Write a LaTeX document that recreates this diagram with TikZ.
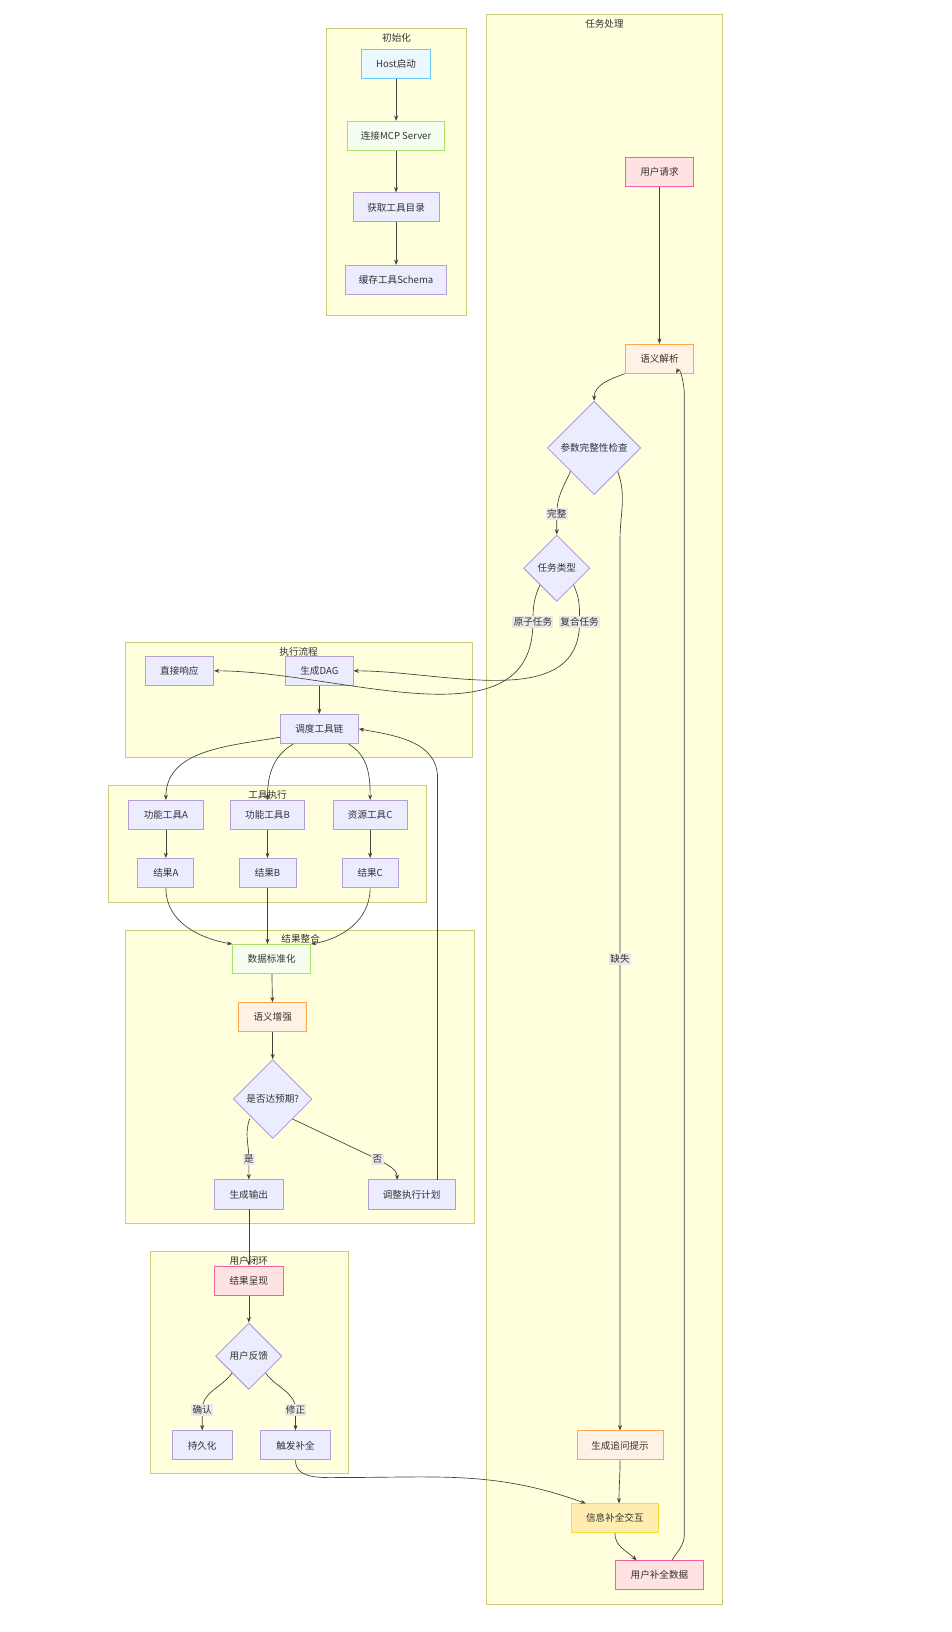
\documentclass[tikz,border=0pt]{standalone}
\usepackage{fontspec}
\setmainfont{Noto Sans CJK SC}
\usetikzlibrary{shapes.geometric,arrows.meta}
\definecolor{cf}{HTML}{FFFFDE}\definecolor{cs}{HTML}{CCCC77}
\definecolor{pf}{HTML}{ECECFF}\definecolor{ps}{HTML}{B39DDB}
\tikzset{
 x=0.778pt,y=-0.778pt,
 every node/.style={font=\fontsize{7.2}{9}\selectfont,text=black!80},
 clu/.style={draw=cs,fill=cf,line width=0.7pt},
 ctitle/.style={anchor=north,font=\fontsize{7.2}{9}\selectfont},
 box/.style={draw=ps,fill=pf,line width=0.7pt,minimum height=28*0.778pt,inner sep=0pt},
 cyan/.style={box,fill=cyan!8,draw=cyan!60},
 green/.style={box,fill=green!50!lime!6,draw=green!50!black!40!lime!60},
 orange/.style={box,fill=orange!10,draw=orange!70},
 pink/.style={box,fill=pink!45,draw=magenta!50!pink},
 amber/.style={box,fill=yellow!60!orange!30,draw=yellow!70!orange!80},
 dia/.style={diamond,draw=ps,fill=pf,line width=0.7pt,inner sep=0pt,aspect=1},
 e/.style={draw=black!75,line width=0.5pt,-{Stealth[length=4pt,width=3pt]}},
 lbl/.style={fill=black!9,inner sep=1pt}
}
\begin{document}
\begin{tikzpicture}
\useasboundingbox (0,0) rectangle (918,1574);
% clusters
\draw[clu] (315,27) rectangle (450,304); \node[ctitle] at (382.5,28) {初始化};
\draw[clu] (469,14) rectangle (697,1547); \node[ctitle] at (583,14) {任务处理};
\draw[clu] (121,620) rectangle (456,731); \node[ctitle] at (288,620) {执行流程};
\draw[clu] (105,758) rectangle (411,870); \node[ctitle] at (258,758) {工具执行};
\draw[clu] (121,897) rectangle (458,1180); \node[ctitle] at (290,897) {结果整合};
\draw[clu] (145,1207) rectangle (336,1421); \node[ctitle] at (240,1207) {用户闭环};
% nodes
\node[cyan,minimum width=67*0.778pt] (h) at (382,62) {Host启动};
\node[green,minimum width=93*0.778pt] (m) at (382,131) {连接MCP Server};
\node[box,minimum width=83*0.778pt] (g) at (382,200) {获取工具目录};
\node[box,minimum width=97*0.778pt] (s) at (382,270) {缓存工具Schema};
\node[pink,minimum width=66*0.778pt] (ur) at (636,166) {用户请求};
\node[orange,minimum width=66*0.778pt] (sp) at (636,346) {语义解析};
\node[dia,minimum size=90*0.778pt] (pc) at (573,432) {参数完整性检查};
\node[dia,minimum size=64*0.778pt] (tt) at (537,548) {任务类型};
\node[box,minimum width=66*0.778pt] (dr) at (173,647) {直接响应};
\node[box,minimum width=65*0.778pt] (dag) at (308,647) {生成DAG};
\node[box,minimum width=75*0.778pt] (sch) at (308,703) {调度工具链};
\node[box,minimum width=72*0.778pt] (ta) at (160,786) {功能工具A};
\node[box,minimum width=72*0.778pt] (tb) at (258,786) {功能工具B};
\node[box,minimum width=71*0.778pt] (tc) at (357,786) {资源工具C};
\node[box,minimum width=54*0.778pt] (ra) at (160,842) {结果A};
\node[box,minimum width=55*0.778pt] (rb) at (258,842) {结果B};
\node[box,minimum width=54*0.778pt] (rc) at (357,842) {结果C};
\node[green,minimum width=75*0.778pt] (dn) at (262,925) {数据标准化};
\node[orange,minimum width=66*0.778pt] (se) at (263,981) {语义增强};
\node[dia,minimum size=76*0.778pt] (ok) at (263,1060) {是否达预期?};
\node[box,minimum width=66*0.778pt] (go) at (240,1152) {生成输出};
\node[box,minimum width=84*0.778pt] (adj) at (397,1152) {调整执行计划};
\node[pink,minimum width=66*0.778pt] (rp) at (240,1235) {结果呈现};
\node[dia,minimum size=64*0.778pt] (fb) at (240,1308) {用户反馈};
\node[box,minimum width=58*0.778pt] (pe) at (195,1394) {持久化};
\node[box,minimum width=67*0.778pt] (tr) at (285,1394) {触发补全};
\node[orange,minimum width=83*0.778pt] (ask) at (598,1394) {生成追问提示};
\node[amber,minimum width=84*0.778pt] (ii) at (593,1464) {信息补全交互};
\node[pink,minimum width=84*0.778pt] (ud) at (636,1519) {用户补全数据};
% label coordinates
\coordinate (l1) at (537,496); \coordinate (l2) at (598,925);
\coordinate (l3) at (514,600); \coordinate (l4) at (559,600);
\coordinate (l5) at (240,1118); \coordinate (l6) at (364,1118);
\coordinate (l7) at (195,1360); \coordinate (l8) at (285,1360);
% edges
\draw[e] (h) -- (m); \draw[e] (m) -- (g); \draw[e] (g) -- (s);
\draw[e] (ur) -- (sp);
\draw[e] (sp.south west) to[out=200,in=90] (pc.north);
\draw[e] (pc.south west) to[out=-115,in=90] (l1) -- (tt.north);
\draw[e] (pc.south east) to[out=-70,in=90] (598,520) -- (l2) -- (ask.north);
\draw[e] (tt.south west) to[out=-115,in=90] (l3) to[out=-90,in=0] (dr.east);
\draw[e] (tt.south east) to[out=-65,in=90] (l4) to[out=-90,in=0] (dag.east);
\draw[e] (dag) -- (sch);
\draw[e] (sch.west) ++(0,8) to[out=190,in=90] (ta.north);
\draw[e] (sch.south west) ++(13,0) to[out=-150,in=90] (tb.north);
\draw[e] (sch.south east) ++(-10,0) to[out=-30,in=90] (tc.north);
\draw[e] (ta) -- (ra); \draw[e] (tb) -- (rb); \draw[e] (tc) -- (rc);
\draw[e] (ra.south) to[out=-90,in=170] (dn.north west);
\draw[e] (rb.south) -- (dn.north west -| rb.south);
\draw[e] (rc.south) to[out=-90,in=10] (dn.north east);
\draw[e] (dn) -- (se); \draw[e] (se) -- (ok);
\draw[e] (ok.south west) ++(-3,0) to[out=-110,in=90] (l5) -- (go.north);
\draw[e] (ok.south east) -- (l6) to[out=-30,in=90] (383,1138);
\draw[e] (422,1138) to[out=90,in=-90] (422,750) to[out=90,in=-10] (sch.east);
\draw[e] (go) -- (rp); \draw[e] (rp) -- (fb);
\draw[e] (fb.south west) to[out=-125,in=90] (l7) -- (pe.north);
\draw[e] (fb.south east) to[out=-55,in=90] (l8) -- (tr.north);
\draw[e] (tr.south) to[out=-90,in=180] (330,1425) to[out=0,in=160] (565,1450);
\draw[e] (ask.south) to[out=-90,in=90] (597,1450);
\draw[e] (ii.south) to[out=-90,in=135] (614,1505);
\draw[e] (648,1505) to[out=60,in=-90] (660,1480) -- (660,380) to[out=90,in=60] (652,360);
% labels
\node[lbl] at (l1) {完整}; \node[lbl] at (l2) {缺失};
\node[lbl] at (l3) {原子任务}; \node[lbl] at (l4) {复合任务};
\node[lbl] at (l5) {是}; \node[lbl] at (l6) {否};
\node[lbl] at (l7) {确认}; \node[lbl] at (l8) {修正};
\end{tikzpicture}
\end{document}
